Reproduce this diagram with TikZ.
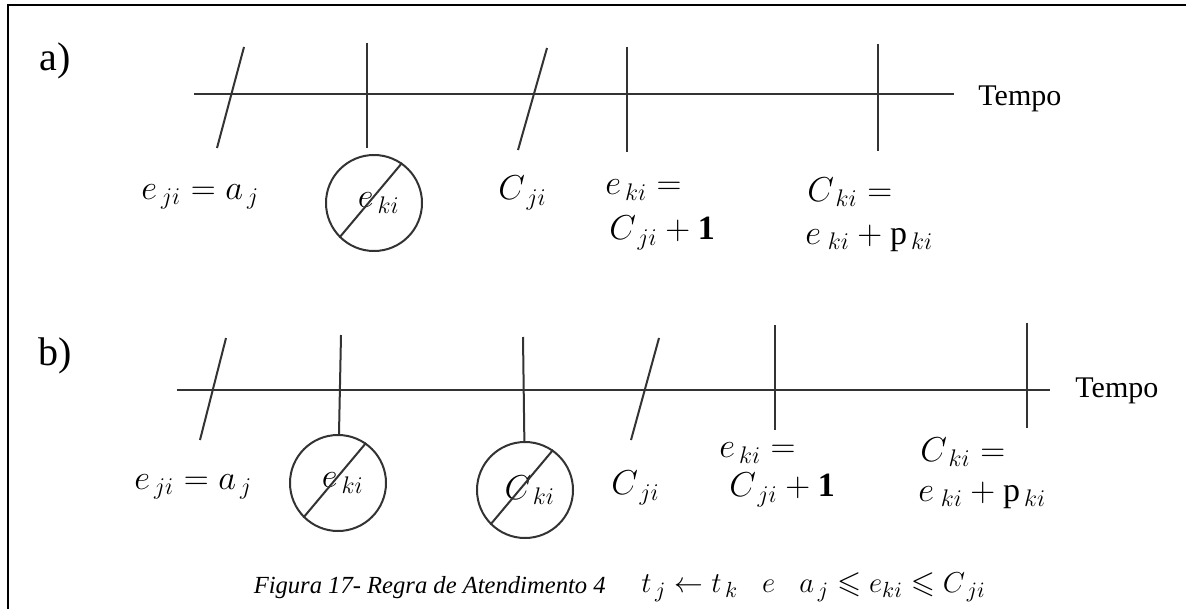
\documentclass[tikz,border=0pt]{standalone}
\usepackage{amsmath}
\usepackage{amssymb}
\usepackage{fontspec}
\setmainfont{Liberation Serif}

\begin{document}
\begin{tikzpicture}[x=0.5pt,y=-0.5pt,
    line/.style={line width=1pt,draw=black!80},
    lbl/.style={anchor=west,inner sep=0pt,font=\fontsize{17}{20}\selectfont},
    circ/.style={circle,draw=black!80,line width=1pt,minimum size=48pt,inner sep=0pt,font=\fontsize{17}{20}\selectfont},
    part/.style={font=\fontsize{20}{24}\selectfont},
    tempo/.style={anchor=west,inner sep=0pt,font=\fontsize{15}{18}\selectfont}]
\useasboundingbox (0,0) rectangle (1186,609);
\draw[line width=1.2pt] (1186,5) -- (8,5) -- (8,609);

\node[part] (pa) at (55,61) {a)};
\coordinate (axa0) at (194,94.5);
\coordinate (axa1) at (954,94.5);
\node[tempo] (tpa) at (978,99) {Tempo};
\draw[line] (axa0) -- (axa1);
\coordinate (a1t) at (244,47);  \coordinate (a1b) at (217,148);
\coordinate (a2t) at (367,43);  \coordinate (a2b) at (367,148);
\coordinate (a3t) at (547,48);  \coordinate (a3b) at (518,150);
\coordinate (a4t) at (627,47);  \coordinate (a4b) at (627,152);
\coordinate (a5t) at (878,44);  \coordinate (a5b) at (878,151);
\draw[line] (a1t) -- (a1b);
\draw[line] (a2t) -- (a2b);
\draw[line] (a3t) -- (a3b);
\draw[line] (a4t) -- (a4b);
\draw[line] (a5t) -- (a5b);
\node[lbl] (eja) at (141,197) {$e_{\,ji}=a_{\,j}$};
\node[circ] (cka) at (374,203) {$\;e_{\,ki}$};
\draw[line] (cka.225) -- (cka.55);
\node[lbl] (Cja) at (498,193) {$C_{\,ji}$};
\node[lbl] (eka) at (605,190) {$e_{\,ki}=$};
\node[lbl] (Cjpa) at (609,233) {$C_{\,ji}+\mathbf{1}$};
\node[lbl] (Cka) at (807,192) {$C_{\,ki}=$};
\node[lbl] (ekpa) at (805,238) {$e_{\;ki}+\mathrm{p}_{\,ki}$};

\node[part] (pb) at (55,356) {b)};
\coordinate (axb0) at (176.5,390);
\coordinate (axb1) at (1050,390);
\node[tempo] (tpb) at (1075,391) {Tempo};
\draw[line] (axb0) -- (axb1);
\node[circ] (ckb) at (338,483) {$\;e_{\,ki}$};
\node[circ] (Ckb) at (525,490) {$\;C_{\,ki}$};
\coordinate (b1t) at (226,338);  \coordinate (b1b) at (200,440);
\coordinate (b2t) at (341,335);
\coordinate (b3t) at (523,337);
\coordinate (b4t) at (659,338);  \coordinate (b4b) at (631,440);
\coordinate (b5t) at (775,325);  \coordinate (b5b) at (775,430);
\coordinate (b6t) at (1026.5,323);  \coordinate (b6b) at (1026.5,428);
\draw[line] (b1t) -- (b1b);
\draw[line] (b2t) -- (ckb);
\draw[line] (b3t) -- (Ckb);
\draw[line] (b4t) -- (b4b);
\draw[line] (b5t) -- (b5b);
\draw[line] (b6t) -- (b6b);
\draw[line] (ckb.225) -- (ckb.55);
\draw[line] (Ckb.225) -- (Ckb.55);
\node[lbl] (ejb) at (134,487) {$e_{\,ji}=a_{\,j}$};
\node[lbl] (Cjb) at (611,488) {$C_{\,ji}$};
\node[lbl] (ekb) at (719,453) {$e_{\,ki}=$};
\node[lbl] (Cjpb) at (729,490) {$C_{\,ji}+\mathbf{1}$};
\node[lbl] (Ckb2) at (920,452) {$C_{\,ki}=$};
\node[lbl] (ekpb) at (918,495) {$e_{\;ki}+\mathrm{p}_{\,ki}$};

\node[anchor=east,inner sep=0pt,font=\fontsize{12.3}{15}\selectfont\itshape] (cap) at (606,588) {Figura 17- Regra de Atendimento 4};
\node[anchor=west,inner sep=0pt,font=\fontsize{15.5}{18}\selectfont] (rule) at (641,587) {$t_{\,j}\leftarrow t_{\,k}\;\;\;e\;\;\;a_{\,j}\leqslant e_{ki}\leqslant C_{\,ji}$};
\end{tikzpicture}
\end{document}
